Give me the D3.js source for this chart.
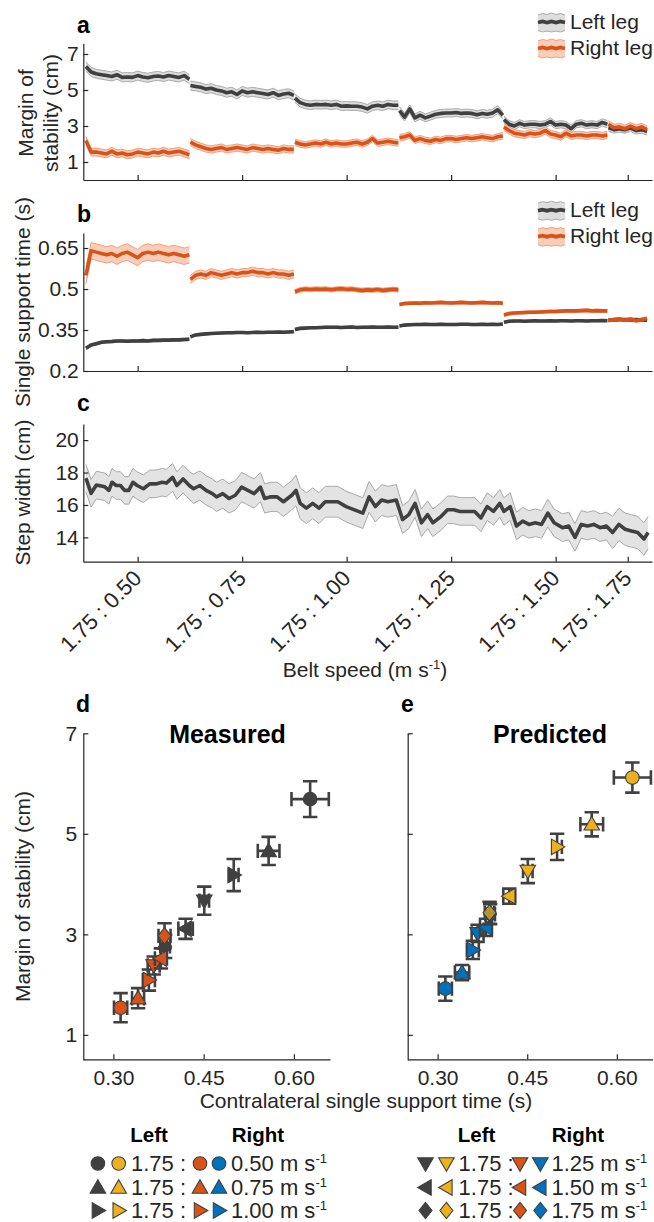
<!DOCTYPE html>
<html><head><meta charset="utf-8">
<script src="https://cdn.jsdelivr.net/npm/d3@7"></script>
<style>
body{margin:0;background:#fff}
svg{display:block}
text{font-family:"Liberation Sans",Arial,Helvetica,sans-serif;fill:#262626}
</style>
</head><body>
<svg id="chart" width="654" height="1222"></svg>
<script>
// ---------------- DATA ----------------
const conditions = ["1.75 : 0.50","1.75 : 0.75","1.75 : 1.00","1.75 : 1.25","1.75 : 1.50","1.75 : 1.75"];
const speedLabels = ["0.50","0.75","1.00","1.25","1.50","1.75"];
const blockStarts = [0,100,200,300,400,500];
const blockLens = [99,99,99,99,99,37];

// panel a: margin of stability (cm), per block
const mosLeft = [
 [6.3,6.0,5.9,5.85,5.8,5.75,5.85,5.7,5.72,5.7,5.8,5.72,5.68,5.75,5.78,5.72,5.8,5.75,5.7,5.8,5.6],
 [5.25,5.2,5.15,5.05,5.1,5.0,4.95,4.85,4.9,4.75,4.95,4.85,4.9,4.85,4.8,4.75,4.85,4.7,4.78,4.82,4.7],
 [4.55,4.3,4.2,4.15,4.2,4.18,4.2,4.15,4.2,4.1,4.12,4.1,4.1,4.05,3.95,4.1,4.15,4.1,4.2,4.15,4.15],
 [3.85,3.5,3.95,3.45,3.6,3.45,3.55,3.65,3.7,3.72,3.72,3.75,3.7,3.72,3.7,3.62,3.7,3.65,3.72,3.9,3.6],
 [3.35,3.1,3.0,3.15,3.05,3.1,3.1,3.05,3.1,3.25,3.05,3.1,3.05,2.85,3.1,3.15,3.05,3.1,3.05,3.2,3.1],
 [2.9,2.8,2.85,2.8,2.9,2.75,2.8,2.7]
];
const mosRight = [
 [2.2,1.55,1.55,1.5,1.45,1.6,1.45,1.5,1.4,1.45,1.55,1.5,1.45,1.55,1.5,1.6,1.5,1.55,1.6,1.5,1.4],
 [2.1,1.95,1.85,1.75,1.7,1.75,1.8,1.7,1.75,1.8,1.75,1.7,1.8,1.75,1.7,1.75,1.7,1.65,1.75,1.7,1.7],
 [2.1,2.0,1.95,2.0,2.05,2.0,2.1,2.0,2.05,2.0,2.0,2.05,2.1,2.0,2.1,2.3,2.05,2.1,2.15,2.1,2.05],
 [2.35,2.4,2.5,2.2,2.3,2.2,2.15,2.25,2.2,2.3,2.3,2.25,2.3,2.35,2.3,2.35,2.4,2.35,2.3,2.4,2.45],
 [2.95,2.75,2.6,2.55,2.5,2.6,2.55,2.6,2.75,2.55,2.5,2.4,2.6,2.45,2.5,2.5,2.45,2.5,2.5,2.45,2.5],
 [3.1,2.9,2.95,2.85,3.0,2.85,2.95,2.8]
];
const mosLeftCI = [0.25,0.25,0.24,0.22,0.2,0.2];
const mosRightCI = [0.22,0.2,0.18,0.18,0.2,0.2];

// panel b: single support time (s)
const sstLeft = [
 [0.283,0.295,0.3,0.305,0.307,0.308,0.31,0.31,0.309,0.31,0.31,0.311,0.31,0.312,0.312,0.313,0.313,0.314,0.314,0.315,0.316],
 [0.325,0.332,0.334,0.336,0.337,0.338,0.339,0.34,0.34,0.341,0.341,0.34,0.341,0.342,0.341,0.342,0.342,0.343,0.342,0.343,0.344],
 [0.352,0.356,0.357,0.358,0.358,0.359,0.36,0.36,0.36,0.359,0.36,0.361,0.359,0.36,0.36,0.361,0.36,0.36,0.361,0.36,0.36],
 [0.365,0.368,0.369,0.37,0.37,0.371,0.37,0.37,0.371,0.37,0.37,0.37,0.371,0.371,0.37,0.37,0.371,0.37,0.371,0.37,0.372],
 [0.378,0.382,0.383,0.383,0.382,0.383,0.384,0.383,0.383,0.384,0.383,0.384,0.384,0.383,0.384,0.384,0.383,0.384,0.384,0.385,0.384],
 [0.386,0.387,0.388,0.388,0.387,0.388,0.387,0.386]
];
const sstRight = [
 [0.55,0.64,0.635,0.63,0.625,0.63,0.62,0.63,0.635,0.625,0.615,0.63,0.635,0.63,0.635,0.63,0.625,0.63,0.625,0.62,0.625],
 [0.535,0.55,0.555,0.55,0.56,0.555,0.55,0.555,0.56,0.555,0.56,0.56,0.565,0.56,0.56,0.555,0.56,0.555,0.555,0.55,0.555],
 [0.49,0.497,0.5,0.498,0.5,0.499,0.5,0.497,0.5,0.501,0.499,0.5,0.497,0.495,0.497,0.496,0.498,0.495,0.497,0.499,0.497],
 [0.443,0.447,0.448,0.449,0.448,0.45,0.449,0.45,0.451,0.45,0.449,0.45,0.451,0.45,0.449,0.45,0.451,0.45,0.449,0.45,0.448],
 [0.405,0.41,0.412,0.413,0.414,0.415,0.415,0.416,0.417,0.418,0.418,0.419,0.42,0.42,0.42,0.421,0.422,0.42,0.421,0.42,0.42],
 [0.385,0.388,0.39,0.386,0.39,0.384,0.388,0.392]
];
const sstLeftCI = [0.005,0.004,0.004,0.004,0.004,0.004];
const sstRightCI = [0.03,0.015,0.008,0.005,0.005,0.006];

// panel c: step width (cm)
const swStride = [0,5,10,18,22,25,29,33,37,41,
 45,49,55,61,67,73,77,83,87,93,
 99,103,109,115,121,125,131,137,143,149,
 155,161,167,171,177,183,189,197,201,205,
 211,217,223,229,235,241,249,257,265,271,
 277,283,289,297,303,309,315,321,327,332,
 340,346,352,358,364,372,378,384,390,396,
 400,406,412,418,424,430,436,442,448,456,
 462,468,474,480,486,492,498,504,510,516,
 522,528,534,538];
const swMean = [17.65,16.72,17.23,17.12,16.9,17.4,17.2,17.2,16.9,16.9,
 17.4,17.2,17.0,17.3,17.3,17.4,17.35,17.7,17.2,17.6,
 17.2,17.0,17.2,16.9,16.7,16.5,16.7,16.4,16.6,17.1,
 16.9,16.7,17.1,16.4,16.5,16.5,16.2,16.6,16.9,16.1,
 15.8,16.1,15.8,16.2,16.2,16.2,15.9,15.7,15.5,16.5,
 15.9,16.3,16.2,16.3,15.1,15.4,16.1,14.9,15.4,14.9,
 15.3,15.7,15.7,15.6,15.6,15.6,15.2,15.9,15.6,16.1,
 15.6,15.9,14.7,15.0,14.8,14.9,14.8,15.5,14.9,14.6,
 14.7,14.0,14.8,14.7,14.8,14.6,14.7,14.3,14.8,14.5,
 14.4,14.3,13.9,14.3];
const swCI = [0.85,0.9,0.95,0.85,0.85,1.0];

// panels d, e: contralateral SST (s) vs MoS (cm); order = 0.50 .. 1.75
const shapes = ["circle","up","right","down","left","diamond"];
const measLeftX = [0.627,0.558,0.500,0.451,0.420,0.386];
const measLeftY = [5.69,4.66,4.18,3.67,3.11,2.76];
const measLeftXErr = [0.031,0.018,0.008,0.008,0.012,0.008];
const measLeftYErr = [0.355,0.28,0.32,0.28,0.2,0.23];
const measRightX = [0.312,0.341,0.359,0.367,0.379,0.385];
const measRightY = [1.54,1.73,2.09,2.38,2.52,2.97];
const measRightXErr = [0.011,0.010,0.010,0.010,0.010,0.010];
const measRightYErr = [0.29,0.2,0.21,0.18,0.2,0.25];
const predLeftX = [0.626,0.558,0.500,0.451,0.420,0.387];
const predLeftY = [6.12,5.19,4.74,4.26,3.76,3.43];
const predLeftXErr = [0.031,0.019,0.008,0.008,0.01,0.008];
const predLeftYErr = [0.30,0.24,0.26,0.24,0.15,0.22];
const predRightX = [0.313,0.341,0.359,0.367,0.381,0.388];
const predRightY = [1.92,2.24,2.69,3.02,3.14,3.40];
const predRightXErr = [0.011,0.012,0.01,0.01,0.01,0.008];
const predRightYErr = [0.24,0.15,0.18,0.17,0.17,0.2];
const predLeftAlpha = [1,1,1,1,1,0.7];

// ---------------- STYLE ----------------
const DARK = "#404040", ORANGE = "#D95319", YELLOW = "#EDB120", BLUE = "#0072BD", AX = "#262626";
const FS = 21;
const svg = d3.select("#chart");

// ---------------- HELPERS ----------------
function styleAxis(g, fs) {
  g.attr("font-size", fs).attr("font-family", null);
  g.select(".domain").attr("stroke", AX).attr("stroke-width", 1.2);
  g.selectAll(".tick line").attr("stroke", AX).attr("stroke-width", 1.2);
  g.selectAll(".tick text").attr("fill", AX);
}
function blockPts(blocks, ci) {
  return blocks.map((arr, b) => arr.map((v, i) => ({
    s: blockStarts[b] + i * blockLens[b] / (arr.length - 1),
    v: v, lo: v - ci[b], hi: v + ci[b]
  })));
}
const xTop = d3.scaleLinear().domain([-2.5, 541.7]).range([83.3, 652]);
const tickCenters = blockStarts.map((s, i) => s + blockLens[i] / 2);

function drawTopPanel(y, yTicks, yFmt, bottom, series, showXLabels) {
  const g = svg.append("g");
  series.forEach(se => {
    se.pts.forEach(pts => {
      g.append("path").datum(pts)
        .attr("d", d3.area().x(d => xTop(d.s)).y0(d => y(d.lo)).y1(d => y(d.hi)))
        .attr("fill", se.band).attr("stroke", "none");
      ["lo","hi"].forEach(k => g.append("path").datum(pts)
        .attr("d", d3.line().x(d => xTop(d.s)).y(d => y(d[k])))
        .attr("fill", "none").attr("stroke", se.edge).attr("stroke-width", 1));
    });
  });
  series.forEach(se => {
    se.pts.forEach(pts => {
      g.append("path").datum(pts)
        .attr("d", d3.line().x(d => xTop(d.s)).y(d => y(d.v)))
        .attr("fill", "none").attr("stroke", se.color).attr("stroke-width", 3.6)
        .attr("stroke-linejoin", "round");
    });
  });
  const ya = svg.append("g").attr("transform", "translate(83.3,0)")
    .call(d3.axisLeft(y).tickValues(yTicks).tickFormat(yFmt).tickSizeInner(-5).tickSizeOuter(0).tickPadding(4.5));
  styleAxis(ya, FS);
  const xa = svg.append("g").attr("transform", `translate(0,${bottom})`)
    .call(d3.axisBottom(xTop).tickValues(tickCenters).tickFormat((d, i) => showXLabels ? conditions[i] : "")
      .tickSizeInner(-5).tickSizeOuter(0));
  styleAxis(xa, FS);
  if (showXLabels) {
    xa.selectAll(".tick text").attr("x", 0).attr("y", 0).attr("dy", 0).attr("font-size", 22)
      .attr("text-anchor", "end").attr("transform", "translate(4.7,18) rotate(-45)");
  }
}

function drawTopLegend(yl1, yl2) {
  const items = [{label:"Left leg", color:DARK, band:"#dedede", edge:"#aaaaaa", y:yl1},
                 {label:"Right leg", color:ORANGE, band:"#f8cdb9", edge:"#f0a07e", y:yl2}];
  const xs = [0,4.5,9,13.5,18,22.5,27];
  const upper = [-7.5,-9,-8,-9.5,-8,-9,-7.5];
  const lower = [8,9.5,8.5,9.5,8.5,9.5,8];
  const mid = [0,-1,0,-1,0,-1,0];
  items.forEach(it => {
    const g = svg.append("g").attr("transform", `translate(538,${it.y})`);
    const pts = xs.map((x, i) => ({x, u: upper[i], l: lower[i], m: mid[i]}));
    g.append("path").datum(pts).attr("d", d3.area().x(d => d.x).y0(d => d.l).y1(d => d.u)).attr("fill", it.band);
    ["u","l"].forEach(k => g.append("path").datum(pts).attr("d", d3.line().x(d => d.x).y(d => d[k]))
      .attr("fill", "none").attr("stroke", it.edge).attr("stroke-width", 1));
    g.append("path").datum(pts).attr("d", d3.line().x(d => d.x).y(d => d.m))
      .attr("fill", "none").attr("stroke", it.color).attr("stroke-width", 3.8);
    g.append("text").attr("x", 32).attr("y", 6.5).attr("font-size", FS).text(it.label);
  });
}

function markerPath(shape) {
  const r = 6.8;
  if (shape === "circle") return `M${r},0A${r},${r} 0 1,1 ${-r},0A${r},${r} 0 1,1 ${r},0Z`;
  if (shape === "diamond") return "M0,-8.2L6.5,0L0,8.2L-6.5,0Z";
  return "M0,-7.8L7.8,5.7L-7.8,5.7Z";
}
function markerRot(shape) {
  return {up:0, right:90, down:180, left:-90}[shape] || 0;
}
function drawMarker(g, shape, cx, cy, fill, alpha) {
  g.append("path").attr("d", markerPath(shape))
    .attr("transform", `translate(${cx},${cy}) rotate(${markerRot(shape)})`)
    .attr("fill", fill).attr("fill-opacity", alpha == null ? 1 : alpha)
    .attr("stroke", DARK).attr("stroke-width", 1.1);
}

const yDE = d3.scaleLinear().domain([0.5, 7]).range([1060, 733.3]);
function drawScatter(x, x0, series, showYLabels) {
  const g = svg.append("g");
  series.forEach(se => {
    se.X.forEach((xv, i) => {
      const cx = x(xv), cy = yDE(se.Y[i]);
      const y1 = yDE(se.Y[i] - se.YE[i]), y2 = yDE(se.Y[i] + se.YE[i]);
      const x1 = x(xv - se.XE[i]), x2 = x(xv + se.XE[i]);
      const cap = 7.2;
      const p = d3.path();
      p.moveTo(cx, y1); p.lineTo(cx, y2);
      p.moveTo(cx - cap, y1); p.lineTo(cx + cap, y1);
      p.moveTo(cx - cap, y2); p.lineTo(cx + cap, y2);
      p.moveTo(x1, cy); p.lineTo(x2, cy);
      p.moveTo(x1, cy - cap); p.lineTo(x1, cy + cap);
      p.moveTo(x2, cy - cap); p.lineTo(x2, cy + cap);
      g.append("path").attr("d", p.toString()).attr("fill", "none")
        .attr("stroke", DARK).attr("stroke-width", 2.6);
      drawMarker(g, shapes[i], cx, cy, se.color, se.alpha ? se.alpha[i] : 1);
    });
  });
  const ya = svg.append("g").attr("transform", `translate(${x0},0)`)
    .call(d3.axisLeft(yDE).tickValues([1,3,5,7]).tickFormat(showYLabels ? d3.format("d") : () => "")
      .tickSizeInner(-5).tickSizeOuter(0).tickPadding(6));
  styleAxis(ya, FS);
  const xa = svg.append("g").attr("transform", "translate(0,1059.3)")
    .call(d3.axisBottom(x).tickValues([0.30,0.45,0.60]).tickFormat(d3.format(".2f"))
      .tickSizeInner(-5).tickSizeOuter(0));
  styleAxis(xa, FS);
  xa.selectAll(".tick text").attr("y", 25.7).attr("dy", 0);
}

// ---------------- PANELS a, b, c ----------------
const yA = d3.scaleLinear().domain([0, 7.6]).range([180, 43.2]);
drawTopPanel(yA, [1,3,5,7], d3.format("d"), 180, [
  {pts: blockPts(mosLeft, mosLeftCI), color: DARK, band: "#dcdcdc", edge: "#ababab"},
  {pts: blockPts(mosRight, mosRightCI), color: ORANGE, band: "#f8cdb9", edge: "#f0a07e"}
], false);

const yB = d3.scaleLinear().domain([0.2, 0.705]).range([371, 233]);
drawTopPanel(yB, [0.2,0.35,0.5,0.65], d => String(d), 371, [
  {pts: blockPts(sstLeft, sstLeftCI), color: DARK, band: "#dcdcdc", edge: "#ababab"},
  {pts: blockPts(sstRight, sstRightCI), color: ORANGE, band: "#f8cdb9", edge: "#f0a07e"}
], false);

const yC = d3.scaleLinear().domain([12.5, 21]).range([561.7, 423.9]);
const swPts = swStride.map((s, i) => {
  const b = Math.min(5, Math.floor(s / 100));
  return {s: s, v: swMean[i], lo: swMean[i] - swCI[b], hi: swMean[i] + swCI[b]};
});
drawTopPanel(yC, [14,16,18,20], d3.format("d"), 561.7, [
  {pts: [swPts], color: DARK, band: "#e3e3e3", edge: "#a9a9a9"}
], true);

drawTopLegend(22.5, 48.5);
drawTopLegend(210.7, 236.7);

// panel letters
[["a",77,32.5],["b",77,221.7],["c",77,410.7],["d",76,711.7],["e",401,711.7]].forEach(([t,x,y]) =>
  svg.append("text").attr("x", x).attr("y", y).attr("font-size", 23).attr("font-weight", "bold").style("fill","#000").text(t));

// y labels top
const ylab = svg.append("text").attr("transform", "translate(0,113) rotate(-90)").attr("text-anchor", "middle").attr("font-size", FS);
ylab.append("tspan").attr("x", 0).attr("y", 33).text("Margin of");
ylab.append("tspan").attr("x", 0).attr("y", 58).text("stability (cm)");
svg.append("text").attr("transform", "translate(30,302) rotate(-90)").attr("text-anchor", "middle").attr("font-size", FS).text("Single support time (s)");
svg.append("text").attr("transform", "translate(30,492.5) rotate(-90)").attr("text-anchor", "middle").attr("font-size", FS).text("Step width (cm)");

const belt = svg.append("text").attr("x", 365).attr("y", 677).attr("text-anchor", "middle").attr("font-size", FS);
belt.append("tspan").text("Belt speed (m s");
belt.append("tspan").attr("dy", -8).attr("font-size", 13).text("-1");
belt.append("tspan").attr("dy", 8).text(")");

// ---------------- PANELS d, e ----------------
const xD = d3.scaleLinear().domain([0.25, 0.66]).range([83.3, 330]);
const xE = d3.scaleLinear().domain([0.25, 0.66]).range([407.7, 652.7]);
drawScatter(xD, 83.3, [
  {X: measLeftX, Y: measLeftY, XE: measLeftXErr, YE: measLeftYErr, color: DARK},
  {X: measRightX, Y: measRightY, XE: measRightXErr, YE: measRightYErr, color: ORANGE}
], true);
drawScatter(xE, 407.7, [
  {X: predRightX, Y: predRightY, XE: predRightXErr, YE: predRightYErr, color: BLUE},
  {X: predLeftX, Y: predLeftY, XE: predLeftXErr, YE: predLeftYErr, color: YELLOW, alpha: predLeftAlpha}
], false);

svg.append("text").attr("x", 227.5).attr("y", 742.7).attr("text-anchor", "middle").attr("font-size", 25).attr("font-weight", "bold").style("fill","#000").text("Measured");
svg.append("text").attr("x", 550).attr("y", 742.7).attr("text-anchor", "middle").attr("font-size", 25).attr("font-weight", "bold").style("fill","#000").text("Predicted");
svg.append("text").attr("transform", "translate(30,896.5) rotate(-90)").attr("text-anchor", "middle").attr("font-size", FS).text("Margin of stability (cm)");
svg.append("text").attr("x", 366).attr("y", 1108).attr("text-anchor", "middle").attr("font-size", FS).text("Contralateral single support time (s)");

// ---------------- bottom legend ----------------
const legendCols = [
  {rows: [0,1,2], m: [97.9,118.7,200,219], t1: 131, t2: 231, hL: 149, hR: 258},
  {rows: [3,4,5], m: [425.5,446.4,520,540.3], t1: 458.6, t2: 551.4, hL: 476.6, hR: 578}
];
const rowY = [1163.5, 1187.5, 1210.5];
const legColors = [DARK, YELLOW, ORANGE, BLUE];
legendCols.forEach(col => {
  svg.append("text").attr("x", col.hL).attr("y", 1141.7).attr("text-anchor", "middle").attr("font-size", 20.5).attr("font-weight", "bold").style("fill","#000").text("Left");
  svg.append("text").attr("x", col.hR).attr("y", 1141.7).attr("text-anchor", "middle").attr("font-size", 20.5).attr("font-weight", "bold").style("fill","#000").text("Right");
  const lg = svg.append("g");
  col.rows.forEach((ri, j) => {
    const cy = rowY[j];
    col.m.forEach((mx, k) => drawMarker(lg, shapes[ri], mx, cy, legColors[k], 1));
    svg.append("text").attr("x", col.t1).attr("y", cy + 7.6).attr("font-size", 22).text("1.75 :");
    const t = svg.append("text").attr("x", col.t2).attr("y", cy + 7.6).attr("font-size", 22);
    t.append("tspan").text(speedLabels[ri] + " m s");
    t.append("tspan").attr("dy", -8).attr("font-size", 13).text("-1");
  });
});
</script>
</body></html>
